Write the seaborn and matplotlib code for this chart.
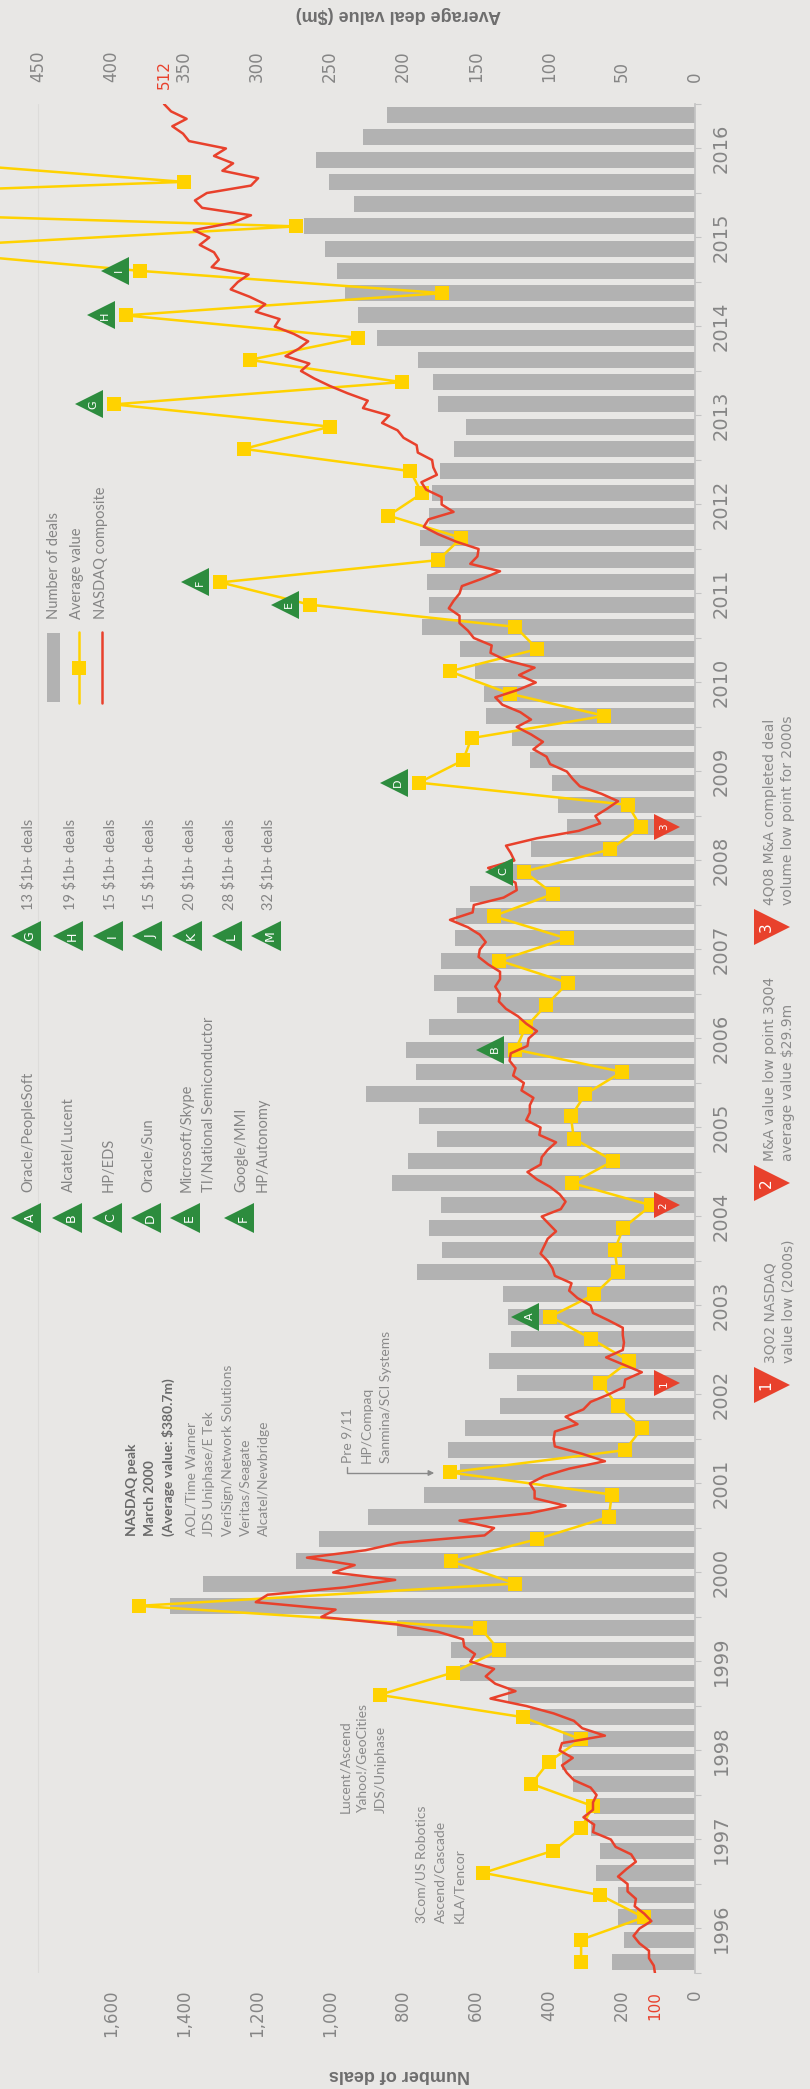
import numpy as np
import pandas as pd
import seaborn as sns
import matplotlib.pyplot as plt
from matplotlib.patches import Rectangle
from matplotlib.transforms import offset_copy, blended_transform_factory

sns.set_theme(style="white")
plt.rcParams['font.family'] = ['DejaVu Sans']

# ---------------- data ----------------
quarters = [f"{y}Q{q}" for y in range(1996, 2017) for q in range(1, 5)]

# number of completed deals per quarter
deals = [228, 195, 212, 212, 272, 259, 285, 277, 333, 365, 362, 453,
         511, 645, 669, 817, 1437, 1349, 1094, 1030, 897, 743, 643, 678,
         631, 535, 488, 565, 505, 511, 525, 761, 692, 729, 695, 829,
         786, 706, 757, 902, 764, 793, 730, 652, 716, 696, 658, 655,
         617, 515, 450, 351, 374, 391, 453, 500, 573, 579, 602, 643,
         749, 730, 735, 723, 754, 730, 720, 699, 661, 628, 705, 719,
         760, 872, 924, 960, 982, 1015, 1070, 933, 1003, 1039, 910, 844]

# average deal value ($m) per quarter (J, K, L, M run off the chart)
avg_value = [78, 78, 35, 65, 145, 97, 78, 70, 112, 100, 78, 118,
             216, 166, 134, 147, 381, 123, 167, 108, 59, 57, 168, 48,
             36, 53, 65, 45, 71, 99, 69, 53, 55, 49, 30, 84,
             56, 83, 85, 75, 50, 123, 116, 102, 87, 134, 88, 138,
             97, 117, 58, 37, 46, 189, 159, 153, 62, 127, 168, 108,
             123, 264, 325, 176, 160, 210, 187, 195, 309, 250, 398, 201,
             305, 231, 390, 173, 380, 550, 273, 775, 350, 547, 600, 520]

# NASDAQ composite, indexed (start = 100), monthly from Jan 1996 to Jan 2017
nasdaq = [100,
          101, 105, 105, 113, 118, 113, 103, 109, 117, 116, 123, 123,
          131, 124, 116, 120, 133, 137, 152, 151, 160, 152, 152, 149,
          154, 168, 174, 178, 169, 180, 178, 142, 161, 168, 185, 208,
          238, 217, 234, 242, 235, 255, 251, 260, 261, 282, 317, 380,
          368, 435, 425, 360, 318, 370, 352, 392, 343, 315, 243, 235,
          264, 205, 175, 201, 201, 205, 193, 172, 142, 161, 184, 185,
          184, 165, 175, 160, 154, 139, 126, 125, 111, 126, 141, 127,
          126, 127, 127, 139, 152, 154, 165, 172, 170, 184, 186, 190,
          196, 193, 190, 183, 189, 195, 179, 175, 180, 188, 199, 207,
          196, 195, 190, 183, 197, 196, 208, 205, 205, 202, 212, 210,
          219, 217, 222, 221, 207, 206, 199, 208, 215, 225, 231, 230,
          234, 230, 230, 240, 248, 247, 242, 247, 257, 272, 253, 252,
          227, 216, 217, 229, 240, 218, 221, 225, 199, 164, 146, 150,
          140, 131, 145, 163, 169, 174, 188, 191, 202, 194, 204, 216,
          204, 213, 228, 234, 215, 200, 214, 201, 225, 238, 237, 252,
          257, 264, 264, 273, 269, 264, 262, 245, 230, 255, 249, 248,
          267, 282, 294, 290, 269, 279, 279, 292, 296, 283, 286, 287,
          299, 300, 311, 316, 329, 323, 345, 341, 358, 373, 386, 397,
          390, 410, 399, 391, 403, 419, 415, 435, 427, 440, 456, 450,
          441, 472, 466, 470, 482, 474, 487, 454, 439, 480, 486, 476,
          439, 433, 463, 454, 470, 460, 491, 496, 505, 493, 506, 512]

# big-deal call-outs (green) and low points (red)
green_flags = {"A": "2003Q2", "B": "2006Q2", "C": "2008Q2", "D": "2009Q2",
               "E": "2011Q2", "F": "2011Q3", "G": "2013Q3", "H": "2014Q3",
               "I": "2015Q1", "J": "2015Q2", "K": "2015Q4", "L": "2016Q2",
               "M": "2016Q3"}
red_flags = {"1": "2002Q3", "2": "2004Q3", "3": "2008Q4"}

deal_notes = [("A", ["Oracle/PeopleSoft"]), ("B", ["Alcatel/Lucent"]),
              ("C", ["HP/EDS"]), ("D", ["Oracle/Sun"]),
              ("E", ["Microsoft/Skype", "TI/National Semiconductor"]),
              ("F", ["Google/MMI", "HP/Autonomy"])]
count_notes = [("G", "13 $1b+ deals"), ("H", "19 $1b+ deals"), ("I", "15 $1b+ deals"),
               ("J", "15 $1b+ deals"), ("K", "20 $1b+ deals"), ("L", "28 $1b+ deals"),
               ("M", "32 $1b+ deals")]
low_notes = [("1", ["3Q02 NASDAQ", "value low (2000s)"]),
             ("2", ["M&A value low point 3Q04", "average value $29.9m"]),
             ("3", ["4Q08 M&A completed deal", "volume low point for 2000s"])]

years = list(range(1996, 2017))

# ---------------- styling ----------------
BG = '#e8e7e5'
BAR = '#b2b2b2'
YEL = '#ffd200'
RED = '#e8412c'
GREEN = '#2d8c3e'
TXT = '#858585'
ANN = '#8a8a8a'
AVG_MAX = 476   # right-hand scale runs 0..476 across the plot


def qpos(q):
    return int(q[:4]) + (int(q[-1]) - 1) / 4 + 0.125


df = pd.DataFrame({"t": [qpos(q) for q in quarters], "deals": deals, "avg": avg_value})
t_nasdaq = 1996 + np.arange(len(nasdaq)) / 12

W, H = 810, 2089
fig = plt.figure(figsize=(W / 100, H / 100), dpi=100, facecolor=BG)
ax = fig.add_axes([0, 1 - 1973 / H, 695 / W, (1973 - 104) / H], facecolor=BG)

sns.barplot(data=df, x="deals", y="t", orient="y", native_scale=True, color=BAR,
            saturation=1, width=0.72, errorbar=None, linewidth=0, ax=ax)
ax.set_xlabel("")
ax.set_ylabel("")

ax2 = ax.twiny()
ax3 = ax.twiny()

# average value line
ax2.plot(df["avg"], df["t"], color=YEL, lw=1.8, marker="s", ms=10, mew=0, zorder=3)

# NASDAQ line (on top)
ax3.plot(nasdaq, t_nasdaq, color=RED, lw=1.8, zorder=3)

# green call-out triangles next to the average points (only those inside the plot)
tri_tr = offset_copy(ax2.transData, fig=fig, x=-25, y=0, units='dots')
let_tr = offset_copy(ax2.transData, fig=fig, x=-21, y=0, units='dots')
for letter, q in green_flags.items():
    v = df["avg"][quarters.index(q)]
    if v > AVG_MAX - 20:
        continue
    ax3.plot([v], [qpos(q)], marker="<", ms=20, color=GREEN, mew=0, transform=tri_tr, zorder=5)
    ax3.text(v, qpos(q), letter, transform=let_tr, rotation=90, ha="center", va="center",
             color="white", fontsize=8, zorder=6)

# red low-point triangles near the zero line
red_tr = blended_transform_factory(ax2.transAxes, ax2.transData)
for num, q in red_flags.items():
    ax3.plot([0.96], [qpos(q)], marker=">", ms=19, color=RED, mew=0, transform=red_tr, zorder=5)
    ax3.text(0.955, qpos(q), num, transform=red_tr, rotation=90, ha="center", va="center",
             color="white", fontsize=7.5, zorder=6)

# scales
ax.set_ylim(1996, 2017)
ax.set_xlim(AVG_MAX * 4, 0)
ax2.set_xlim(AVG_MAX, 0)
ax3.set_xlim(649.6, 66.4)
ax3.axis("off")

# bottom axis: number of deals
ax.set_xticks(range(0, 1601, 200))
ax.set_xticklabels([f"{v:,}" for v in range(0, 1601, 200)], rotation=90)
ax.set_xticks(range(0, 1801, 200), minor=True)
ax.tick_params(axis="x", which="both", length=0, pad=12, labelsize=12, labelcolor=TXT)
ax.grid(True, which="minor", axis="x", color="#dddcda", lw=0.8)
ax.set_axisbelow(True)

# top axis: average deal value
ax2.set_xticks(range(0, 451, 50))
ax2.set_xticklabels([str(v) for v in range(0, 451, 50)], rotation=90)
ax2.tick_params(axis="x", length=0, pad=16, labelsize=12, labelcolor=TXT)

# right axis: years
ax.yaxis.tick_right()
ax.set_yticks([y + 0.5 for y in years])
ax.set_yticklabels([str(y) for y in years], rotation=90, va="center")
ax.set_yticks(range(1996, 2018), minor=True)
ax.tick_params(axis="y", which="both", right=True, left=False, length=4, width=0.8,
               color="#c4c4c4", pad=8, labelsize=14, labelcolor="#858585")

for a in (ax, ax2):
    for s in a.spines.values():
        s.set_visible(False)
ax.spines["right"].set_visible(True)
ax.spines["right"].set_color("#c4c4c4")

# ---------------- overlay for notes (pixel coordinates) ----------------
ov = fig.add_axes([0, 0, 1, 1], zorder=10)
ov.set_xlim(0, W)
ov.set_ylim(H, 0)
ov.axis("off")
ov.patch.set_visible(False)


def vtext(x, y, s, size=10, color=ANN, weight="normal", family="Lato"):
    ov.text(x, y, s, rotation=90, rotation_mode="anchor", ha="left", va="center",
            fontsize=size, color=color, fontweight=weight, family=family)


# axis titles (upside down)
ov.text(398, 15, "Average deal value ($m)", rotation=180, ha="center", va="center",
        fontsize=13, fontweight="bold", color="#6e6e6e", family="Liberation Sans")
ov.text(399, 2074, "Number of deals", rotation=180, ha="center", va="center",
        fontsize=13, fontweight="bold", color="#6e6e6e", family="Liberation Sans")

# NASDAQ start/end labels
nas_x = blended_transform_factory(ax3.transData, ov.transData)
ov.text(nasdaq[0], 1991, str(nasdaq[0]), transform=nas_x, rotation=90, ha="center",
        va="top", fontsize=11, color=RED)
ov.text(nasdaq[-1], 89, str(nasdaq[-1]), transform=nas_x, rotation=90, ha="center",
        va="bottom", fontsize=11, color=RED)

# series legend
ov.add_patch(Rectangle((47, 633), 13, 69, color=BAR, lw=0))
ov.plot([79, 79], [632, 703], color=YEL, lw=1.8)
ov.plot([79], [668], marker="s", ms=10, color=YEL, mew=0)
ov.plot([102, 102], [632, 703], color=RED, lw=1.8)
for x, s in [(54, "Number of deals"), (77, "Average value"), (101, "NASDAQ composite")]:
    vtext(x, 619, s, size=10.5, color=TXT)

# deal legend A-F
for (letter, lines), x in zip(deal_notes, [26, 67, 107, 146, 185, 239]):
    ov.plot([x], [1218], marker="<", ms=21, color=GREEN, mew=0)
    ov.text(x + 4, 1218, letter, rotation=90, ha="center", va="center", color="white", fontsize=9)
    for i, s in enumerate(lines):
        vtext(x + 2 + 22 * i, 1192, s, size=10.5, color=TXT)

# deal legend G-M
for (letter, s), x in zip(count_notes, [26, 68, 108, 147, 187, 227, 266]):
    ov.plot([x], [936], marker="<", ms=21, color=GREEN, mew=0)
    ov.text(x + 4, 936, letter, rotation=90, ha="center", va="center", color="white", fontsize=9)
    vtext(x + 2, 910, s, size=10.5, color=TXT)

# low point notes on the right
for (num, lines), y in zip(low_notes, [1385, 1183, 927]):
    ov.plot([772], [y], marker=">", ms=26, color=RED, mew=0)
    ov.text(766, y, num, rotation=90, ha="center", va="center", color="white", fontsize=11)
    for i, s in enumerate(lines):
        vtext(770 + 18 * i, y - 22, s, size=10, color=ANN, family="DejaVu Sans")

# text annotations in the chart
for i, s in enumerate(["NASDAQ peak", "March 2000", "(Average value: $380.7m)"]):
    vtext(132 + 18 * i, 1536, s, size=10, color="#6a6a6a", weight="bold")
for i, s in enumerate(["AOL/Time Warner", "JDS Uniphase/E Tek", "VeriSign/Network Solutions",
                       "Veritas/Seagate", "Alcatel/Newbridge"]):
    vtext(191 + 18.3 * i, 1536, s, size=10)
for i, s in enumerate(["Pre 9/11", "HP/Compaq", "Sanmina/SCI Systems"]):
    vtext(347 + 19.5 * i, 1463, s, size=10)
for i, s in enumerate(["Lucent/Ascend", "Yahoo!/GeoCities", "JDS/Uniphase"]):
    vtext(345 + 18 * i, 1813, s, size=10)
for i, s in enumerate(["3Com/US Robotics", "Ascend/Cascade", "KLA/Tencor"]):
    vtext(422 + 18.5 * i, 1923, s, size=10)

ov.plot([347, 347, 430], [1467, 1473, 1473], color="#8a8a8a", lw=1)
ov.annotate("", xy=(437, 1473), xytext=(426, 1473),
            arrowprops=dict(arrowstyle="-|>", color="#8a8a8a", lw=1, mutation_scale=8))

fig.savefig("out.png", dpi=100, facecolor=BG)
